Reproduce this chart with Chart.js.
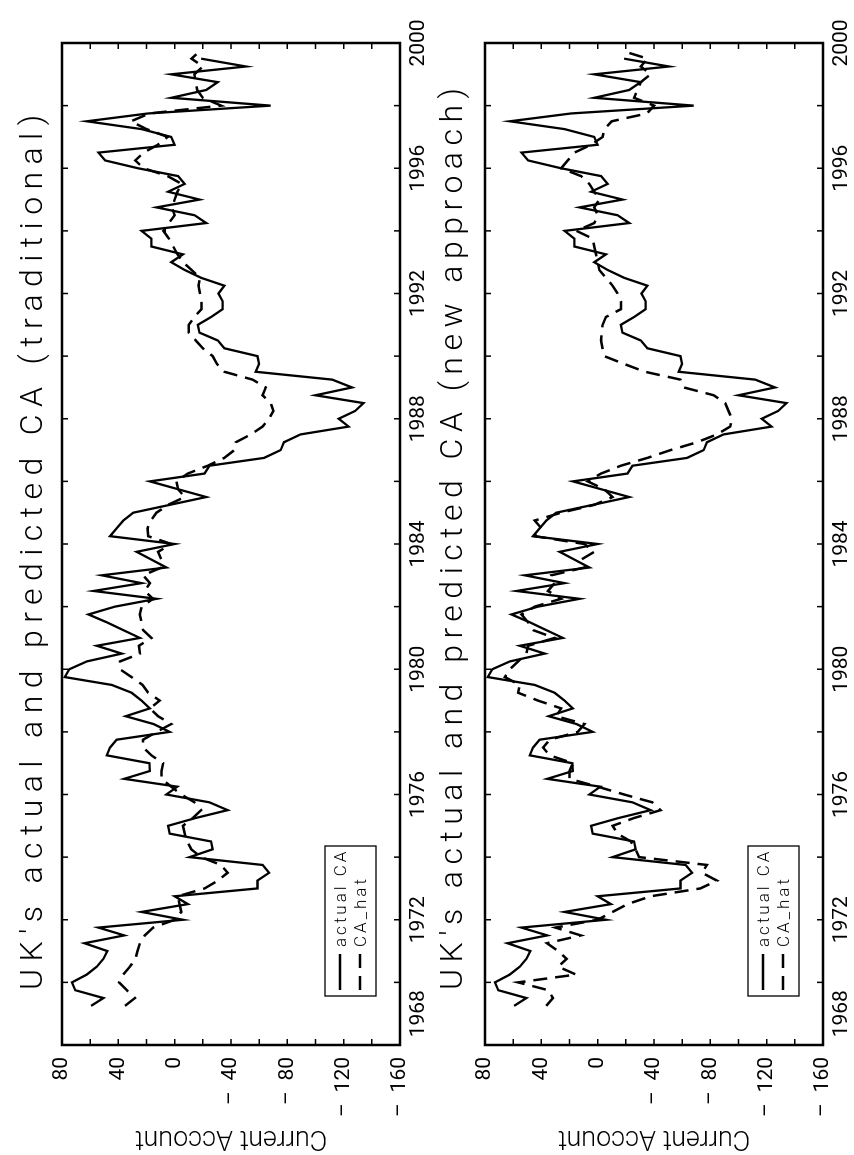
<!DOCTYPE html>
<html>
<head>
<meta charset="utf-8">
<script src="https://cdn.jsdelivr.net/npm/chart.js@4.4.0/dist/chart.umd.min.js"></script>
<style>
  html, body { margin: 0; padding: 0; background: #fff; overflow: hidden; }
  #page {
    position: absolute; left: 0; top: 0; width: 1155px; height: 854px;
    transform-origin: 0 0; transform: translateY(1155px) rotate(-90deg);
  }
  .panel { position: absolute; left: 0; width: 1155px; height: 427px; }
  .title {
    position: absolute; left: 165px; white-space: nowrap; color: #000;
    font: 300 32px Roboto, "Liberation Sans", sans-serif; line-height: 32px; letter-spacing: 5px;
  }
</style>
</head>
<body>
<div id="page">
  <div class="panel" style="top:0"><canvas id="chart1" width="1155" height="427"></canvas></div>
  <div class="panel" style="top:427px"><canvas id="chart2" width="1155" height="427"></canvas></div>
  <div class="title" id="title1" style="top:15px">UK's actual and predicted CA (traditional)</div>
  <div class="title" id="title2" style="top:435px">UK's actual and predicted CA (new approach)</div>
</div>
<script>
// quarterly observations, first one at 1969.25
const firstQuarter = 1969.25;

const actualCA = [
  59.3, 50.6, 70.6, 72.9, 62.4, 55.3, 50.6, 47.8, 64.0, 35.8,
  54.1, -5.9, 23.5, -9.4, 0.0, -58.8, -58.8, -67.0, -62.4, -10.6,
  -27.0, -25.9, 3.5, 4.7, -15.0, -37.6, -24.7, 5.9, -1.9, 35.8,
  17.6, 18.0, 48.2, 45.9, 41.2, 3.5, 15.0, 34.8, 17.6, 23.5,
  30.6, 44.7, 78.0, 74.8, 62.4, 37.6, 55.3, 24.7, 36.5, 48.2,
  61.2, 42.4, 12.9, 57.6, 23.5, 51.8, 5.9, 16.5, 27.0, 0.0,
  45.9, 41.2, 36.5, 29.4, 3.5, -22.4, -2.4, 17.6, -21.2, -24.7,
  -63.5, -75.3, -77.6, -89.4, -123.5, -116.5, -128.2, -134.1, -100.0, -125.9,
  -111.8, -57.6, -60.0, -58.8, -35.3, -30.6, -17.6, -16.5, -25.9, -34.1,
  -34.1, -31.1, -35.3, -18.8, -7.1, 2.4, -5.9, 16.5, 16.5, 23.5,
  -22.4, -14.1, 12.9, -17.6, 4.7, -7.1, -2.4, 26.0, 49.4, 54.1,
  0.0, 2.4, 23.5, 62.4, 18.8, -68.2, 2.4, -22.4, -30.6, 2.4,
  -50.6, -18.8
];

const caHatTraditional = [
  35.3, 28.2, 34.0, 39.5, 36.5, 31.8, 27.8, 26.4, 24.7, 21.2,
  15.3, 0.0, -4.7, -3.5, -2.4, -21.2, -30.6, -37.6, -32.9, -18.8,
  -11.8, -8.9, -7.1, -5.9, -12.9, -18.8, -14.1, -4.7, 2.4, 9.4,
  9.4, 8.2, 16.5, 22.4, 22.4, 12.9, 2.4, 11.8, 17.6, 10.6,
  18.8, 22.8, 30.6, 38.8, 38.8, 24.7, 25.4, 16.5, 22.4, 23.5,
  24.7, 23.5, 15.3, 21.2, 17.6, 22.4, 9.4, 9.4, 11.8, 2.4,
  18.8, 19.3, 16.9, 12.9, 4.7, -7.1, -2.4, -1.2, -9.4, -23.5,
  -35.3, -42.4, -43.5, -54.1, -62.4, -67.0, -70.1, -68.2, -62.4, -64.7,
  -55.3, -35.3, -30.0, -27.0, -20.0, -15.0, -10.0, -10.0, -14.0, -19.0,
  -19.0, -18.0, -17.0, -18.0, -12.0, -6.0, -2.0, 1.0, 4.0, 8.0,
  4.0, 0.0, 2.0, 0.0, -2.0, -5.0, 5.0, 22.0, 28.0, 22.0,
  12.0, 5.0, 20.0, 31.0, 18.0, -33.0, -20.0, -16.0, -15.0, -14.0,
  -20.0, -12.0, -18.0
];

const caHatNewApproach = [
  36.5, 31.8, 35.0, 56.5, 15.3, 28.0, 22.0, 28.0, 36.0, 12.0,
  30.0, 0.0, -10.6, -21.2, -37.6, -72.9, -84.7, -74.1, -77.6, -29.4,
  -27.0, -23.5, -14.1, -10.6, -25.9, -44.7, -38.8, -18.8, 0.0, 20.0,
  20.0, 17.6, 34.1, 38.8, 34.1, 14.1, 9.4, 29.4, 25.9, 42.4,
  56.5, 55.3, 65.9, 62.4, 56.5, 50.6, 49.4, 30.6, 45.9, 49.4,
  54.1, 44.7, 25.9, 35.3, 30.6, 32.9, 9.4, 11.8, 2.4, 9.4,
  44.7, 40.0, 44.7, 25.9, 2.4, -10.6, -4.7, 7.1, -2.4, -16.5,
  -35.3, -51.8, -70.6, -84.7, -94.1, -95.3, -92.9, -90.6, -82.4, -61.2,
  -58.8, -33.6, -18.8, -4.7, -3.5, -2.4, -2.8, -3.5, -5.9, -16.5,
  -16.5, -14.1, -10.6, -5.9, -1.2, 0.0, 1.2, 2.4, 3.5, 15.0,
  2.4, 0.0, 2.4, -1.2, 2.4, 5.9, 11.8, 25.9, 21.2, 16.5,
  4.7, -3.5, -4.7, -10.0, -35.0, -40.0, -25.9, -28.2, -30.6, -37.6,
  -30.6, -35.3, -17.6
];

const yearTicks = [1968, 1972, 1976, 1980, 1984, 1988, 1992, 1996, 2000];
const valueTicks = [80, 40, 0, -40, -80, -120, -160];

const FONT = 'Roboto, "Liberation Sans", sans-serif';
Chart.defaults.font.family = FONT;
Chart.defaults.font.weight = '300';
Chart.defaults.color = '#000';

function toPoints(values) {
    return values.map((v, i) => ({ x: firstQuarter + i * 0.25, y: v }));
}

// stretch a title with letter spacing so it covers the same run as the original
function fitTitle(el, width) {
    el.style.letterSpacing = '0px';
    const natural = el.offsetWidth;
    const n = el.textContent.length;
    el.style.letterSpacing = ((width - natural) / (n - 1)).toFixed(2) + 'px';
}

// box round the plot area, with short inward ticks on all four sides
const framePlugin = {
    id: 'frame',
    afterDatasetsDraw(chart) {
        const { ctx, chartArea: a, scales } = chart;
        ctx.save();
        ctx.strokeStyle = '#000';
        ctx.lineWidth = 1.5;
        ctx.beginPath();
        scales.x.ticks.forEach(t => {
            const px = scales.x.getPixelForValue(t.value);
            if (px <= a.left + 1 || px >= a.right - 1) return;
            ctx.moveTo(px, a.top); ctx.lineTo(px, a.top + 6);
            ctx.moveTo(px, a.bottom); ctx.lineTo(px, a.bottom - 6);
        });
        scales.y.ticks.forEach(t => {
            const py = scales.y.getPixelForValue(t.value);
            if (py <= a.top + 1 || py >= a.bottom - 1) return;
            ctx.moveTo(a.left, py); ctx.lineTo(a.left + 6, py);
            ctx.moveTo(a.right, py); ctx.lineTo(a.right - 6, py);
        });
        ctx.stroke();
        ctx.lineWidth = 2.5;
        ctx.strokeRect(a.left, a.top, a.right - a.left, a.bottom - a.top);
        ctx.restore();
    }
};

// small boxed legend in the lower left of the plot
const legendPlugin = {
    id: 'legendBox',
    afterDraw(chart) {
        const { ctx, chartArea: a } = chart;
        const x0 = a.left + 49, y0 = a.top + 263;
        ctx.save();
        ctx.fillStyle = '#fff';
        ctx.fillRect(x0, y0, 150, 51);
        ctx.strokeStyle = '#000';
        ctx.lineWidth = 1.3;
        ctx.strokeRect(x0, y0, 150, 51);
        ctx.font = '300 17px ' + FONT;
        if ('letterSpacing' in ctx) ctx.letterSpacing = '3px';
        ctx.textBaseline = 'middle';
        ctx.fillStyle = '#000';
        chart.data.datasets.forEach((ds, k) => {
            const y = y0 + 15 + k * 20;
            ctx.lineWidth = ds.borderWidth;
            ctx.setLineDash(ds.borderDash || []);
            ctx.beginPath();
            ctx.moveTo(x0 + 6, y);
            ctx.lineTo(x0 + 42, y);
            ctx.stroke();
            ctx.setLineDash([]);
            ctx.fillText(ds.label, x0 + 49, y + 2);
        });
        ctx.restore();
    }
};

function makeChart(id, hatValues, topPad, xAxisHeight) {
    const ctx = document.getElementById(id).getContext('2d');
    return new Chart(ctx, {
        type: 'line',
        data: {
            datasets: [{
                label: 'actual CA',
                data: toPoints(actualCA),
                borderColor: '#000',
                borderWidth: 2.3,
                pointRadius: 0,
                tension: 0
            }, {
                label: 'CA_hat',
                data: toPoints(hatValues),
                borderColor: '#000',
                borderWidth: 2.5,
                borderDash: [14, 8],
                pointRadius: 0,
                tension: 0
            }]
        },
        options: {
            responsive: false,
            animation: false,
            devicePixelRatio: 1,
            layout: { padding: { top: topPad, right: 43, left: 0, bottom: 0 } },
            plugins: { legend: { display: false }, tooltip: { enabled: false } },
            scales: {
                x: {
                    type: 'linear',
                    min: 1968,
                    max: 2000,
                    grid: { display: false, drawTicks: false },
                    border: { display: false },
                    ticks: {
                        stepSize: 2,
                        autoSkip: false,
                        maxRotation: 0,
                        padding: 6,
                        font: { size: 21, weight: '400' },
                        callback: v => {
                            if (!yearTicks.includes(v)) return '';
                            // first label sits just inside the box, as in the original
                            return v === yearTicks[0] ? '            ' + v : String(v);
                        }
                    },
                    afterFit: s => { s.height = xAxisHeight; }
                },
                y: {
                    min: -160,
                    max: 80,
                    grid: { display: false, drawTicks: false },
                    border: { display: false },
                    ticks: {
                        stepSize: 20,
                        autoSkip: false,
                        padding: 12,
                        font: { size: 21, weight: '400' },
                        callback: v => {
                            if (!valueTicks.includes(v)) return '';
                            return v < 0 ? '\u2013\u2002' + (-v) : String(v);
                        }
                    },
                    title: {
                        display: true,
                        text: 'Current Account',
                        font: { size: 27 },
                        padding: { top: 1, bottom: 0 }
                    },
                    afterFit: s => { s.width = 110; }
                }
            }
        },
        plugins: [framePlugin, legendPlugin]
    });
}

fitTitle(document.getElementById('title1'), 875);
fitTitle(document.getElementById('title2'), 902);

makeChart('chart1', caHatTraditional, 62, 27);
makeChart('chart2', caHatNewApproach, 58, 31);
</script>
</body>
</html>
